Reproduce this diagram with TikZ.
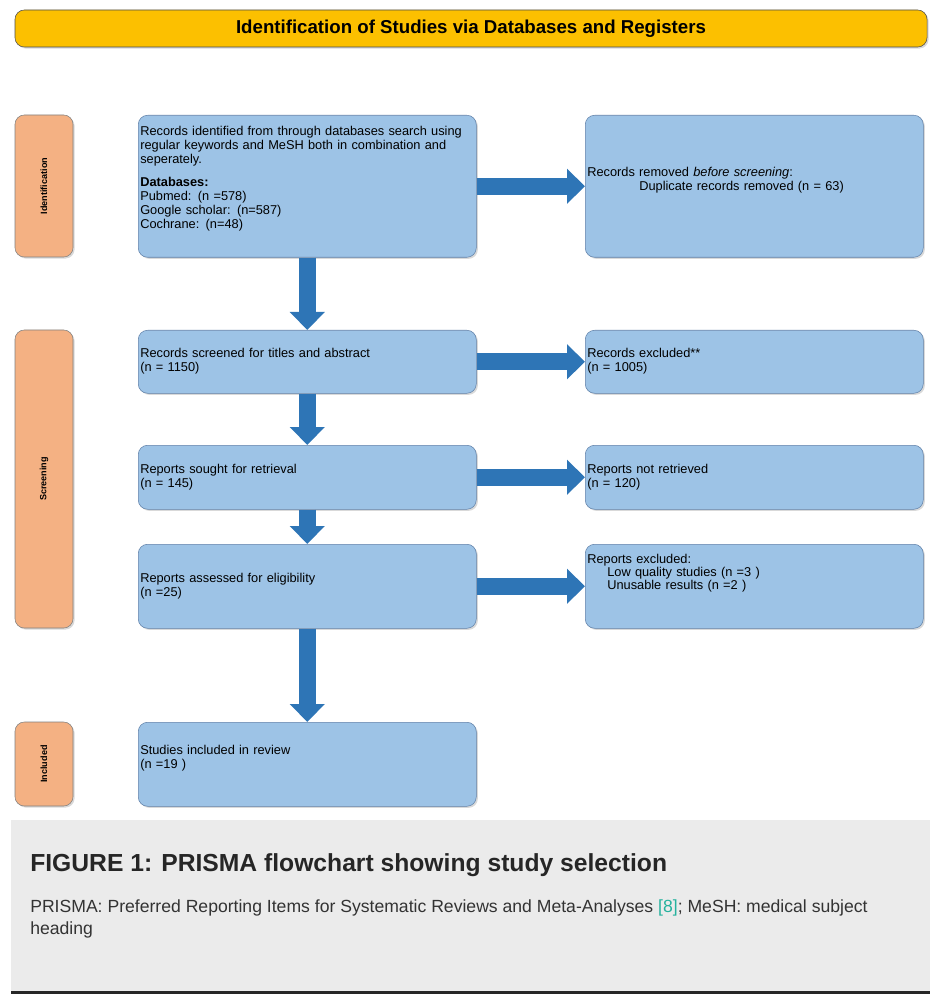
\documentclass[tikz,border=0pt]{standalone}
\usepackage{fontspec}
\setmainfont{Liberation Sans}
\usepackage{xcolor}
\usepackage{tikz}
\usetikzlibrary{positioning,arrows.meta,shadows}
\definecolor{prismagold}{RGB}{252, 192, 0}
\definecolor{prismaorange}{RGB}{244, 177, 131}
\definecolor{prismablue}{RGB}{157, 195, 230}
\definecolor{arrowblue}{RGB}{46, 117, 182}
\definecolor{boxedge}{RGB}{96, 128, 168}
\definecolor{captiongray}{RGB}{235, 235, 235}
\definecolor{citeteal}{RGB}{38, 178, 158}

\begin{document}
\begin{tikzpicture}[x=0.75pt, y=-0.75pt, font=\fontsize{9.6}{10.5}\selectfont,
  shade/.style={drop shadow={shadow xshift=1.2pt, shadow yshift=-1.2pt, opacity=0.3}},
  stagebox/.style={draw=gray, fill=prismaorange, rounded corners=7pt, shade, minimum width=43.5pt, inner sep=0pt, font=\fontsize{6.8}{8}\selectfont\bfseries},
  flowbox/.style={draw=boxedge, fill=prismablue, rounded corners=7pt, shade, anchor=north west, align=left, text width=250.5pt, inner xsep=1.5pt, inner ysep=0pt},
  flowarrow/.style={draw=arrowblue, line width=12.75pt, -{Triangle[length=13.5pt, width=25.5pt]}}]
\useasboundingbox (0,0) rectangle (930,994);

\node[draw=gray!60!black, fill=prismagold, rounded corners=7pt, shade, minimum width=684pt, minimum height=27.75pt, font=\fontsize{14}{16}\selectfont\bfseries] (banner) at (471,28.5) {Identification of Studies via Databases and Registers};

% phases
\node[stagebox, minimum height=106.5pt] (stageid) at (44,186) {\rotatebox{90}{Identification}};
\node[stagebox, minimum height=223.5pt] (stagescr) at (44,479) {\rotatebox{90}{Screening}};
\node[stagebox, minimum height=63pt] (stageinc) at (44,764) {\rotatebox{90}{Included}};

% main column
\node[flowbox, text height=15pt, text depth=91.5pt] (ident) at (138,115) {Records identified from through databases search using\\ regular keywords and MeSH both in combination and\\ seperately.\\[7pt] \textbf{Databases:}\\ Pubmed: (n =578)\\ Google scholar: (n=587)\\ Cochrane: (n=48)};
\node[flowbox, text height=20.25pt, text depth=27pt] (screened) at (138,330) {Records screened for titles and abstract\\ (n = 1150)};
\node[flowbox, text height=21pt, text depth=27pt] (sought) at (138,445) {Reports sought for retrieval\\ (n = 145)};
\node[flowbox, text height=28.5pt, text depth=34.5pt] (assessed) at (138,544) {Reports assessed for eligibility\\ (n =25)};
\node[flowbox, text height=24pt, text depth=39pt] (included) at (138,722) {Studies included in review\\ (n =19 )};

% side column
\node[flowbox, text height=45.75pt, text depth=60.75pt] (removed) at (585,115) {Records removed \textit{before screening}:\\ \hspace*{39pt}Duplicate records removed (n = 63)};
\node[flowbox, text height=20.25pt, text depth=27pt] (excluded) at (585,330) {Records excluded**\\ (n = 1005)};
\node[flowbox, text height=21pt, text depth=27pt] (notretr) at (585,445) {Reports not retrieved\\ (n = 120)};
\node[flowbox, text height=14.25pt, text depth=48.75pt, font=\fontsize{9.6}{9.75}\selectfont] (repexcl) at (585,544) {Reports excluded:\\ \hspace*{15pt}Low quality studies (n =3 )\\ \hspace*{15pt}Unusable results (n =2 )};

\draw[flowarrow] (ident) -- (removed);
\draw[flowarrow] (ident) -- (screened);
\draw[flowarrow] (screened) -- (excluded);
\draw[flowarrow] (screened) -- (sought);
\draw[flowarrow] (sought) -- (notretr);
\draw[flowarrow] (sought) -- (assessed);
\draw[flowarrow] (assessed) -- (repexcl);
\draw[flowarrow] (assessed) -- (included);

% caption
\fill[captiongray] (11,820) rectangle (930,991);
\fill[black!85] (11,991) rectangle (930,994);
\node[anchor=base west, inner sep=0pt, font=\fontsize{18.5}{22}\selectfont\bfseries, text=black!85] (figtitle) at (30,871) {FIGURE 1: PRISMA flowchart showing study selection};
\node[anchor=base west, inner sep=0pt, align=left, font=\fontsize{13.2}{16.5}\selectfont, text=black!80] (figtext) at (30,934) {PRISMA: Preferred Reporting Items for Systematic Reviews and Meta-Analyses \textcolor{citeteal}{[8]}; MeSH: medical subject\\ heading};
\end{tikzpicture}
\end{document}
